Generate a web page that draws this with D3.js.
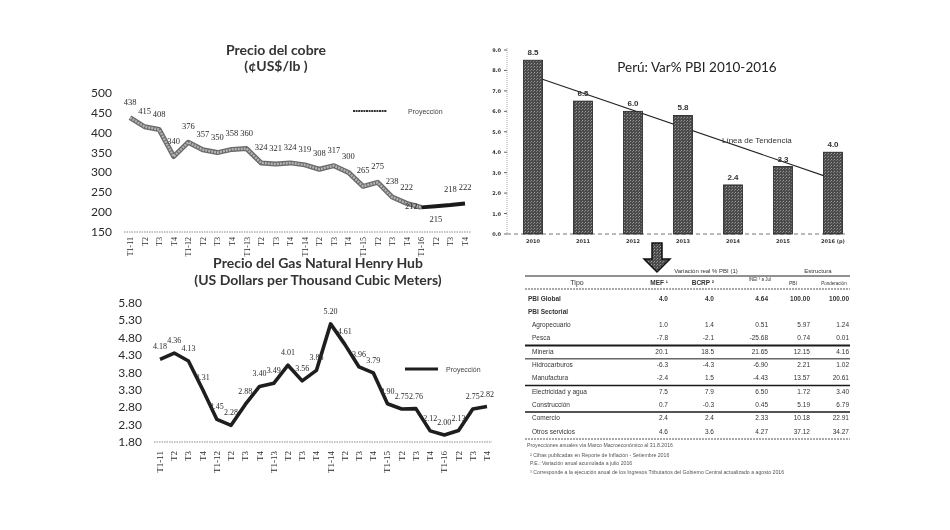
<!DOCTYPE html>
<html><head><meta charset="utf-8">
<script src="https://cdn.jsdelivr.net/npm/d3@7/dist/d3.min.js"></script>
<style>
html,body{margin:0;padding:0;background:#fff;}
svg{display:block;will-change:transform;}
text{-webkit-font-smoothing:antialiased;}
</style></head>
<body>
<svg id="c" width="950" height="530"></svg>
<script>
// ---------- DATA ----------
const quarters = ["T1-11","T2","T3","T4","T1-12","T2","T3","T4","T1-13","T2","T3","T4","T1-14","T2","T3","T4","T1-15","T2","T3","T4","T1-16","T2","T3","T4"];
const copperValues = [438,415,408,340,376,357,350,358,360,324,321,324,319,308,317,300,265,275,238,222,212,215,218,222];
const copperTicks = [150,200,250,300,350,400,450,500];
const copperProjectionStart = 20;

const gasValues = [4.18,4.36,4.13,3.31,2.45,2.28,2.88,3.40,3.49,4.01,3.56,3.86,5.20,4.61,3.96,3.79,2.90,2.75,2.76,2.12,2.00,2.13,2.75,2.82];
const gasTicks = [1.80,2.30,2.80,3.30,3.80,4.30,4.80,5.30,5.80];

const pbiYears = ["2010","2011","2012","2013","2014","2015","2016 (p)"];
const pbiValues = [8.5,6.5,6.0,5.8,2.4,3.3,4.0];
const pbiTicks = [0,1,2,3,4,5,6,7,8,9];

const tableSectors = ["PBI Global","PBI Sectorial","Agropecuario","Pesca","Minería","Hidrocarburos","Manufactura","Electricidad y agua","Construcción","Comercio","Otros servicios"];
const tableMEF   = ["4.0","","1.0","-7.8","20.1","-6.3","-2.4","7.5","0.7","2.4","4.6"];
const tableBCRP  = ["4.0","","1.4","-2.1","18.5","-4.3","1.5","7.9","-0.3","2.4","3.6"];
const tableINEI  = ["4.64","","0.51","-25.68","21.65","-6.90","-4.43","6.50","0.45","2.33","4.27"];
const tablePBI   = ["100.00","","5.97","0.74","12.15","2.21","13.57","1.72","5.19","10.18","37.12"];
const tablePond  = ["100.00","","1.24","0.01","4.16","1.02","20.61","3.40","6.79","22.91","34.27"];
const footnotes = [
  "Proyecciones anuales vía Marco Macroeconómico al 31.8.2016",
  "² Cifras publicadas en Reporte de Inflación - Setiembre 2016",
  "P.E.: Variación anual acumulada a julio 2016",
  "³ Corresponde a la ejecución anual de los Ingresos Tributarios del Gobierno Central actualizado a agosto 2016"
];

// ---------- SETUP ----------
const svg = d3.select("#c");
const defs = svg.append("defs");
const pat = defs.append("pattern").attr("id","hatch").attr("width",3).attr("height",3).attr("patternUnits","userSpaceOnUse");
pat.append("rect").attr("width",3).attr("height",3).attr("fill","#4a4a4a");
pat.append("rect").attr("width",1).attr("height",1).attr("fill","#9a9a9a");
pat.append("rect").attr("x",2).attr("y",1).attr("width",1).attr("height",1).attr("fill","#7a7a7a");

const TXT = "#2a2a2a";

// ---------- COPPER ----------
{
  const x = d3.scalePoint().domain(d3.range(quarters.length)).range([130,465]);
  const y = d3.scaleLinear().domain([150,500]).range([232,93]);
  const g = svg.append("g");
  g.append("text").attr("x",276).attr("y",55).attr("text-anchor","middle")
    .attr("font-family","Lato").attr("font-weight","bold").attr("font-size",14).attr("fill","#333").text("Precio del cobre");
  g.append("text").attr("x",276).attr("y",71).attr("text-anchor","middle")
    .attr("font-family","Lato").attr("font-weight","bold").attr("font-size",14).attr("fill","#333").text("(¢US$/lb )");
  g.selectAll(".yl").data(copperTicks).join("text")
    .attr("x",112).attr("y",d=>y(d)+4).attr("text-anchor","end")
    .attr("font-family","Lato").attr("font-size",12).attr("fill",TXT).text(d=>d);
  g.append("line").attr("x1",124).attr("x2",471).attr("y1",y(150)).attr("y2",y(150))
    .attr("stroke","#888").attr("stroke-width",1).attr("stroke-dasharray","1.5,1");
  g.selectAll(".xl").data(quarters).join("text")
    .attr("transform",(d,i)=>`translate(${x(i)+3},${237}) rotate(-90)`)
    .attr("text-anchor","end").attr("font-family","Liberation Serif").attr("font-size",8).attr("fill",TXT).text(d=>d);
  const line = d3.line().x((d,i)=>x(i)).y(d=>y(d));
  const hist = copperValues.slice(0,copperProjectionStart+1);
  g.append("path").attr("d",line(hist)).attr("fill","none").attr("stroke","#6a6a6a").attr("stroke-width",5).attr("stroke-linejoin","round");
  g.append("path").attr("d",line(hist)).attr("fill","none").attr("stroke","#b5b5b5").attr("stroke-width",2.4).attr("stroke-linejoin","round").attr("stroke-dasharray","2,1");
  const projLine = d3.line().x((d,i)=>x(i+copperProjectionStart)).y(d=>y(d));
  g.append("path").attr("d",projLine(copperValues.slice(copperProjectionStart))).attr("fill","none").attr("stroke","#1a1a1a").attr("stroke-width",4).attr("stroke-linejoin","round");
  g.selectAll(".dl").data(copperValues).join("text")
    .attr("x",(d,i)=> i===20 ? x(i)-10 : x(i)).attr("y",(d,i)=> i===21 ? y(d)+16 : (i===20 ? y(d)+2 : y(d)-13))
    .attr("text-anchor","middle").attr("font-family","Liberation Serif").attr("font-size",8.5).attr("fill",TXT).text(d=>d);
  g.append("line").attr("x1",353).attr("x2",387).attr("y1",111).attr("y2",111).attr("stroke","#333").attr("stroke-width",2.2).attr("stroke-dasharray","2,0.6");
  g.append("text").attr("x",408).attr("y",114).attr("font-family","Liberation Sans").attr("font-size",7).attr("fill","#444").text("Proyección");
}

// ---------- GAS ----------
{
  const x = d3.scalePoint().domain(d3.range(quarters.length)).range([160,487]);
  const y = d3.scaleLinear().domain([1.8,5.8]).range([442,303]);
  const g = svg.append("g");
  g.append("text").attr("x",318).attr("y",268).attr("text-anchor","middle")
    .attr("font-family","Lato").attr("font-weight","bold").attr("font-size",14).attr("fill","#333").text("Precio del Gas Natural Henry Hub");
  g.append("text").attr("x",318).attr("y",285).attr("text-anchor","middle")
    .attr("font-family","Lato").attr("font-weight","bold").attr("font-size",14).attr("fill","#333").text("(US Dollars per Thousand Cubic Meters)");
  g.selectAll(".yl").data(gasTicks).join("text")
    .attr("x",142).attr("y",d=>y(d)+4).attr("text-anchor","end")
    .attr("font-family","Lato").attr("font-size",12).attr("fill",TXT).text(d=>d.toFixed(2));
  g.append("line").attr("x1",154).attr("x2",492).attr("y1",y(1.8)).attr("y2",y(1.8))
    .attr("stroke","#888").attr("stroke-width",1).attr("stroke-dasharray","1.5,1");
  g.selectAll(".xl").data(quarters).join("text")
    .attr("transform",(d,i)=>`translate(${x(i)+3},${451}) rotate(-90)`)
    .attr("text-anchor","end").attr("font-family","Liberation Serif").attr("font-size",9).attr("fill",TXT).text(d=>d);
  const line = d3.line().x((d,i)=>x(i)).y(d=>y(d));
  g.append("path").attr("d",line(gasValues)).attr("fill","none").attr("stroke","#1e1e1e").attr("stroke-width",3.6).attr("stroke-linejoin","round");
  g.selectAll(".dl").data(gasValues).join("text")
    .attr("x",(d,i)=>x(i)).attr("y",d=>y(d)-10)
    .attr("text-anchor","middle").attr("font-family","Liberation Serif").attr("font-size",8).attr("fill",TXT).text(d=>d.toFixed(2));
  g.append("line").attr("x1",405).attr("x2",438).attr("y1",369).attr("y2",369).attr("stroke","#1e1e1e").attr("stroke-width",3);
  g.append("text").attr("x",446).attr("y",372).attr("font-family","Liberation Sans").attr("font-size",7).attr("fill","#444").text("Proyección");
}

// ---------- PBI BARS ----------
{
  const x = d3.scalePoint().domain(d3.range(pbiYears.length)).range([508,858]).padding(0.5);
  const y = d3.scaleLinear().domain([0,9]).range([234,50]);
  const g = svg.append("g");
  const bw = 19;
  g.append("line").attr("x1",507).attr("x2",507).attr("y1",48).attr("y2",234).attr("stroke","#aaa").attr("stroke-dasharray","1,1");
  g.selectAll(".tk").data(pbiTicks).join("line").attr("x1",504).attr("x2",507).attr("y1",d=>y(d)).attr("y2",d=>y(d)).attr("stroke","#666");
  g.selectAll(".yl").data(pbiTicks).join("text")
    .attr("x",501).attr("y",d=>y(d)+2).attr("text-anchor","end")
    .attr("font-family","DejaVu Sans").attr("font-weight","bold").attr("font-size",5).attr("fill","#333").text(d=>d.toFixed(1));
  g.append("line").attr("x1",507).attr("x2",845).attr("y1",y(0)).attr("y2",y(0)).attr("stroke","#777").attr("stroke-dasharray","4,3");
  const n = pbiValues.length, mx = d3.mean(d3.range(n)), my = d3.mean(pbiValues);
  const slope = d3.sum(pbiValues,(v,i)=>(i-mx)*(v-my))/d3.sum(d3.range(n),i=>(i-mx)*(i-mx));
  const icpt = my - slope*mx;
  g.append("line").attr("x1",x(0)).attr("x2",x(n-1)).attr("y1",y(icpt)).attr("y2",y(icpt+slope*(n-1)))
    .attr("stroke","#222").attr("stroke-width",1.1);
  g.append("text").attr("x",722).attr("y",143).attr("font-family","Liberation Sans").attr("font-size",8).attr("fill","#333").text("Línea de Tendencia");
  g.selectAll(".bar").data(pbiValues).join("rect")
    .attr("x",(d,i)=>x(i)-bw/2).attr("width",bw).attr("y",d=>y(d)).attr("height",d=>y(0)-y(d))
    .attr("fill","url(#hatch)").attr("stroke","#222").attr("stroke-width",0.8);
  g.selectAll(".bl").data(pbiValues).join("text")
    .attr("x",(d,i)=>x(i)).attr("y",d=>y(d)-5).attr("text-anchor","middle")
    .attr("font-family","Liberation Sans").attr("font-weight","bold").attr("font-size",8).attr("fill","#333").text(d=>d.toFixed(1));
  g.selectAll(".xl").data(pbiYears).join("text")
    .attr("x",(d,i)=>x(i)).attr("y",243).attr("text-anchor","middle")
    .attr("font-family","DejaVu Sans").attr("font-weight","bold").attr("font-size",5).attr("fill","#333").text(d=>d);
  g.append("text").attr("x",697).attr("y",72).attr("text-anchor","middle")
    .attr("font-family","Lato").attr("font-size",13.5).attr("fill","#222").text("Perú: Var% PBI 2010-2016");
}

// ---------- ARROW ----------
svg.append("polygon").attr("points","652,243 662,243 662,259 670,259 657,272 644,259 652,259")
  .attr("fill","url(#hatch)").attr("stroke","#111").attr("stroke-width",1.5);

// ---------- TABLE ----------
{
  const g = svg.append("g").attr("font-family","Liberation Sans").attr("fill","#333");
  const ry = d3.scalePoint().domain(d3.range(tableSectors.length)).range([298,431]);
  const L = 525, R = 850;
  g.append("text").attr("x",706).attr("y",273).attr("text-anchor","middle").attr("font-size",6).text("Variación real % PBI (1)");
  g.append("text").attr("x",818).attr("y",273).attr("text-anchor","middle").attr("font-size",6).text("Estructura");
  g.append("line").attr("x1",L).attr("x2",R).attr("y1",276).attr("y2",276).attr("stroke","#222").attr("stroke-width",1);
  g.append("text").attr("x",577).attr("y",285).attr("text-anchor","middle").attr("font-size",7).text("Tipo");
  g.append("text").attr("x",668).attr("y",285).attr("text-anchor","end").attr("font-size",6.5).attr("font-weight","bold").text("MEF ¹");
  g.append("text").attr("x",714).attr("y",285).attr("text-anchor","end").attr("font-size",6.5).attr("font-weight","bold").text("BCRP ²");
  g.append("text").attr("x",760).attr("y",281).attr("text-anchor","middle").attr("font-size",4.5).text("INEI ³ a Jul");
  g.append("text").attr("x",793).attr("y",285).attr("text-anchor","middle").attr("font-size",5).text("PBI");
  g.append("text").attr("x",834).attr("y",285).attr("text-anchor","middle").attr("font-size",4.5).text("Ponderación");
  g.append("line").attr("x1",L).attr("x2",R).attr("y1",289).attr("y2",289).attr("stroke","#555").attr("stroke-dasharray","2,1");
  g.selectAll(".rn").data(tableSectors).join("text")
    .attr("x",(d,i)=> i<2 ? 528 : 532).attr("y",(d,i)=>ry(i)+2.5)
    .attr("font-size",6.5).attr("font-weight",(d,i)=> i<2 ? "bold" : "normal").text(d=>d);
  const cols = [[tableMEF,668],[tableBCRP,714],[tableINEI,768],[tablePBI,810],[tablePond,849]];
  cols.forEach(([arr,xr])=>{
    g.selectAll(null).data(arr).join("text")
      .attr("x",xr).attr("y",(d,i)=>ry(i)+2.5).attr("text-anchor","end")
      .attr("font-size",6.5).attr("font-weight",(d,i)=> i===0 ? "bold":"normal").text(d=>d);
  });
  const sep = [[3,2],[4,1],[6,1.6],[8,1.6]];
  sep.forEach(([i,w])=>{
    const yy = (ry(i)+ry(i+1))/2 + 1;
    g.append("line").attr("x1",L).attr("x2",R).attr("y1",yy).attr("y2",yy).attr("stroke","#1a1a1a").attr("stroke-width",w);
  });
  g.append("line").attr("x1",L).attr("x2",R).attr("y1",439).attr("y2",439).attr("stroke","#555").attr("stroke-dasharray","2,1");
  g.selectAll(".fn").data(footnotes).join("text")
    .attr("x",(d,i)=> i===0 ? 527 : 530).attr("y",(d,i)=>[447,457,465,474][i])
    .attr("font-size",5.2).attr("fill","#555").text(d=>d);
}
</script>
</body></html>
